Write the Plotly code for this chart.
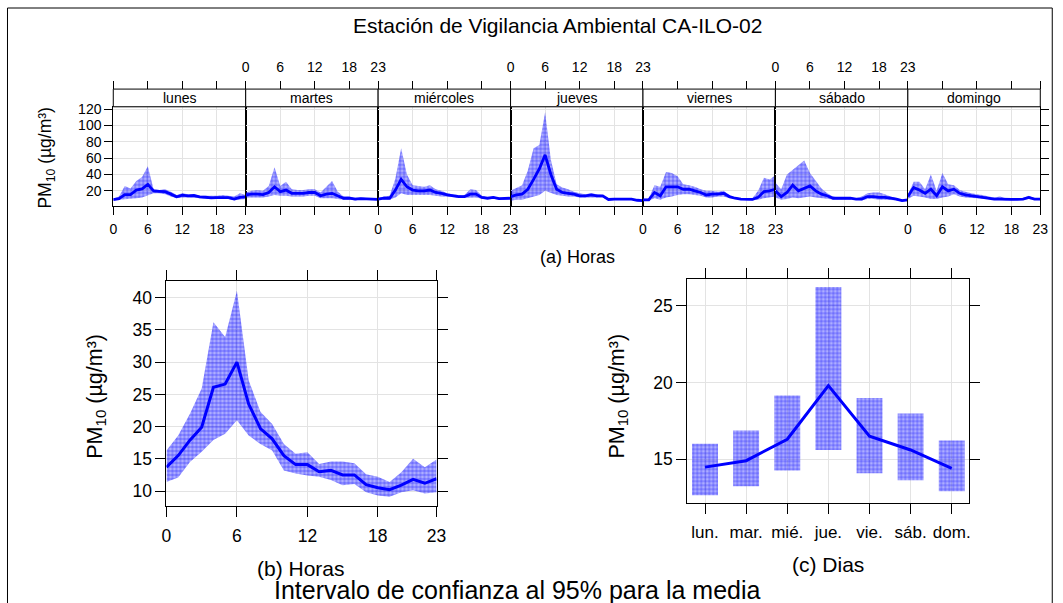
import plotly.graph_objects as go

# ---------------- data ----------------
hours = list(range(24))
days = ["lunes", "martes", "miércoles", "jueves", "viernes", "sábado", "domingo"]
day_abbr = ["lun.", "mar.", "mié.", "jue.", "vie.", "sáb.", "dom."]
hour_ticks = [0, 6, 12, 18, 23]

lunes_mean = [9.4, 10.6, 15.5, 15.5, 21, 22.5, 28, 20, 19.5, 19, 16, 12.7, 14.7, 14, 14.3, 12.7, 12.2, 11.4, 11.8, 12, 11.8, 10, 12, 12.7]
lunes_upper = [10.5, 13, 26, 23, 32, 37, 50, 22, 21, 22, 19, 15, 17, 16, 16, 14, 14, 14, 14, 15, 14, 13, 17, 15]
lunes_lower = [8.5, 9, 10, 10, 11, 12, 15, 17, 17, 16, 13, 11, 12, 12, 12, 11, 10.5, 10, 10, 10, 10, 8.5, 9, 10]

martes_mean = [15, 16, 16, 15.5, 18, 25, 19, 21, 17, 17, 17, 18, 18, 14, 16, 17, 14, 11, 11, 10, 10.5, 10, 9.5, 9.5]
martes_upper = [18, 20, 21, 20, 26, 49, 26, 31, 22, 21, 21, 22, 22, 18, 25, 32, 19, 13, 13, 11.5, 12, 11, 10.5, 10.5]
martes_lower = [12, 12, 12, 12, 13, 15, 14, 14, 13, 13, 13, 14, 14, 11, 11, 11, 10, 9, 9, 8.5, 9, 9, 8.5, 8.5]

miercoles_mean = [10, 11, 11, 21, 34, 25, 21, 20, 20, 21, 18, 17, 15, 14, 13, 13, 16, 16, 12, 11, 12, 10.5, 10.5, 11]
miercoles_upper = [11, 13, 14, 35, 72, 40, 27, 26, 25, 27, 22, 20, 17, 16, 15, 15, 22, 21, 14, 12, 13, 11.5, 11, 11.5]
miercoles_lower = [9, 9.5, 9.5, 12, 17, 15, 15, 15, 15, 15, 14, 13, 13, 12, 11.5, 11.5, 12, 12, 10.5, 10, 10.5, 9.5, 9.5, 10]

jueves_mean = [13, 15, 16, 22, 34, 47, 64, 40, 22, 18, 17, 16, 14, 14, 15, 14, 14, 9.5, 10, 10, 10, 10, 8.5, 8]
jueves_upper = [20, 24, 27, 45, 72, 76, 116, 58, 28, 24, 22, 19, 17, 16, 17, 16, 15, 11, 11, 11, 11, 11, 9.5, 9]
jueves_lower = [8, 9, 9, 11, 13, 15, 20, 17, 15, 14, 13, 13, 12, 12, 12, 12, 12, 8.5, 9, 9, 9, 9, 7.5, 7]

viernes_mean = [9, 9, 18, 14, 25, 25, 25, 22, 22, 20, 18, 15, 16, 16, 17, 13, 11, 10, 9.5, 9.5, 12, 19, 20, 22]
viernes_upper = [10, 11, 27, 25, 43, 42, 38, 28, 27, 25, 22, 20, 20, 19, 20, 15, 12, 11, 10.5, 11, 20, 36, 34, 39]
viernes_lower = [8, 8, 11, 9, 12, 13, 15, 16, 16, 15, 14, 12, 12, 13, 13, 11, 10, 9, 8.5, 8.5, 9, 11, 12, 13]

sabado_mean = [20, 13, 18, 27, 20, 23, 26, 20, 16, 14, 11, 11, 11, 11, 10, 10, 13, 13, 12, 12, 11, 10, 8, 9]
sabado_upper = [30, 22, 40, 46, 51, 57, 42, 33, 23, 17, 13, 12, 12, 12, 11, 13, 17, 18, 18, 16, 13, 11, 9, 10]
sabado_lower = [12, 9, 10, 12, 11, 12, 13, 12, 11, 10, 9.5, 9.5, 9.5, 9.5, 9, 8.5, 10, 10, 9, 9, 9, 8.5, 7, 8]

domingo_mean = [13, 24, 21, 17, 22, 14, 25, 20, 22, 17, 15, 14, 13, 12, 11.5, 10, 10, 9.5, 9.5, 9.5, 10, 12, 10, 10]
domingo_upper = [15, 31, 31, 22, 40, 20, 42, 28, 27, 21, 19, 17, 16, 15, 13, 12, 13, 11, 10.5, 10.5, 11, 14, 11, 11]
domingo_lower = [10, 14, 13, 12, 10, 10, 12, 13, 16, 13, 12, 11.5, 11, 10.5, 10, 9, 9, 8.5, 8.5, 8.5, 9, 10, 9, 9]

hour_mean = [13.7, 15.5, 17.9, 19.9, 26.1, 26.6, 30.0, 23.5, 19.7, 18.1, 15.5, 14.1, 14.1, 13.0, 13.2, 12.5, 12.5, 11.0, 10.5, 10.2, 10.9, 11.8, 11.2, 11.9]
hour_upper = [16.3, 18.6, 22.0, 25.9, 36.2, 33.9, 41.1, 27.2, 22.3, 20.4, 17.3, 15.8, 16.0, 14.2, 14.6, 14.6, 14.3, 12.6, 12.2, 11.4, 12.9, 15.0, 13.7, 14.9]
hour_lower = [11.4, 12.1, 14.5, 16.1, 17.9, 18.9, 21.0, 18.6, 17.3, 16.3, 13.2, 12.7, 12.4, 12.2, 11.7, 10.9, 11.1, 9.8, 9.3, 9.1, 9.8, 10.1, 9.6, 9.8]

weekday_mean = [14.48, 14.9, 16.3, 19.8, 16.5, 15.6, 14.4]
weekday_upper = [16.0, 16.87, 19.16, 26.24, 18.99, 17.98, 16.22]
weekday_lower = [12.65, 13.24, 14.26, 15.59, 14.08, 13.63, 12.91]

day_means = [lunes_mean, martes_mean, miercoles_mean, jueves_mean, viernes_mean, sabado_mean, domingo_mean]
day_uppers = [lunes_upper, martes_upper, miercoles_upper, jueves_upper, viernes_upper, sabado_upper, domingo_upper]
day_lowers = [lunes_lower, martes_lower, miercoles_lower, jueves_lower, viernes_lower, sabado_lower, domingo_lower]

# ---------------- styling ----------------
W, H = 1063, 603
# observed mapping of page pixels to the photographed picture (small inset + scale)
SX, OX, SY, OY = 0.988, 5.5, 0.989, 6.0
FONT = "Liberation Sans, Arial, sans-serif"
BLUE = "#0000ff"
BAND_BG = "rgba(0,0,255,0.32)"
GRID = "#e3e3e3"
pattern = dict(shape="+", size=4, solidity=0.22, fgcolor=BLUE, fgopacity=0.85,
               bgcolor=BAND_BG, fillmode="replace")
YLAB = "PM<sub>10</sub> (µg/m³)"


def fx(p):
    return ((p - OX) / SX) / W


def fy(p):
    return 1 - ((p - OY) / SY) / H


fig = go.Figure()


def add_band(x, lo, up, mean, xa, ya, lw):
    fig.add_trace(go.Scatter(x=x, y=lo, mode="lines", line=dict(width=0, color=BLUE),
                             xaxis=xa, yaxis=ya, showlegend=False, hoverinfo="skip"))
    fig.add_trace(go.Scatter(x=x, y=up, mode="lines", line=dict(width=0, color=BLUE),
                             fill="tonexty", fillcolor=BAND_BG, fillpattern=pattern,
                             xaxis=xa, yaxis=ya, showlegend=False, hoverinfo="skip"))
    fig.add_trace(go.Scatter(x=x, y=mean, mode="lines", line=dict(width=lw, color=BLUE),
                             xaxis=xa, yaxis=ya, showlegend=False))


layout = dict(width=W, height=H, autosize=False, margin=dict(l=0, r=0, t=0, b=0, pad=0),
              paper_bgcolor="white", plot_bgcolor="white",
              font=dict(family=FONT, color="black"), showlegend=False)

shapes = []
annotations = []

# ---------------- (a) top panels ----------------
left, right = 114, 1043
pw = (right - left) / 7
top_plot, bot_plot, strip_top = 106.7, 205.7, 89
for i in range(7):
    n = i + 1
    x0 = left + i * pw
    x1 = x0 + pw
    add_band(hours, day_lowers[i], day_uppers[i], day_means[i], f"x{n}", f"y{n}", 2.8)
    # dummy trace for the top tick axis
    fig.add_trace(go.Scatter(x=hours, y=[None] * 24, mode="lines", xaxis=f"x{7 + n}",
                             yaxis=f"y{n}", showlegend=False, hoverinfo="skip"))
    layout[f"xaxis{n}"] = dict(domain=[fx(x0), fx(x1)], range=[0, 23], anchor=f"y{n}",
                               tickvals=hour_ticks, ticks="outside", ticklen=8, tickcolor="black",
                               showline=True, linecolor="black", linewidth=1, mirror=True,
                               showgrid=True, gridcolor=GRID, zeroline=False,
                               showticklabels=(i % 2 == 0), tickfont=dict(size=14),
                               ticklabelstandoff=2)
    ya = dict(domain=[fy(bot_plot), fy(top_plot)], range=[1.6, 122.8], anchor=f"x{n}",
              tickvals=[20, 40, 60, 80, 100, 120], showgrid=True, gridcolor=GRID, zeroline=False,
              showline=True, linecolor="black", linewidth=1, mirror=True,
              ticks="", showticklabels=False, tickfont=dict(size=14))
    if i == 0:
        ya.update(ticks="outside", ticklen=8, tickcolor="black", showticklabels=True)
    if i == 6:
        ya.update(ticks="outside", ticklen=8, tickcolor="black", side="right")
    layout[f"yaxis{n}"] = ya
    layout[f"xaxis{7 + n}"] = dict(overlaying=f"x{n}", anchor="free", position=fy(strip_top),
                                   side="top", range=[0, 23], tickvals=hour_ticks,
                                   ticks="outside", ticklen=8, tickcolor="black",
                                   showline=False, showgrid=False, zeroline=False,
                                   showticklabels=(i % 2 == 1), tickfont=dict(size=14),
                                   ticklabelstandoff=3)
    shapes.append(dict(type="rect", xref="paper", yref="paper", x0=fx(x0), x1=fx(x1),
                       y0=fy(top_plot), y1=fy(strip_top), line=dict(color="black", width=1),
                       fillcolor="white", layer="above"))
    annotations.append(dict(text=days[i], xref="paper", yref="paper", x=fx((x0 + x1) / 2),
                            y=fy((top_plot + strip_top) / 2), showarrow=False,
                            font=dict(size=14), xanchor="center", yanchor="middle"))

annotations.append(dict(text=YLAB, xref="paper", yref="paper", x=fx(47), y=fy(157),
                        textangle=-90, showarrow=False, font=dict(size=17.5),
                        xanchor="center", yanchor="middle"))
annotations.append(dict(text="(a) Horas", xref="paper", yref="paper", x=fx(579), y=fy(257),
                        showarrow=False, font=dict(size=18), xanchor="center", yanchor="middle"))

# ---------------- (b) hours ----------------
add_band(hours, hour_lower, hour_upper, hour_mean, "x15", "y15", 3)
layout["xaxis15"] = dict(domain=[fx(167.3), fx(438)], range=[0, 23], anchor="y15",
                         tickvals=hour_ticks, ticks="outside", ticklen=10, tickcolor="black",
                         showline=True, linecolor="black", mirror="ticks", showgrid=True,
                         gridcolor=GRID, zeroline=False, tickfont=dict(size=17.5),
                         ticklabelstandoff=4)
layout["yaxis15"] = dict(domain=[fy(505.3), fy(280.7)], range=[7.7, 42.6], anchor="x15",
                         tickvals=[10, 15, 20, 25, 30, 35, 40], ticks="outside", ticklen=10,
                         tickcolor="black", showline=True, linecolor="black", mirror="ticks",
                         showgrid=True, gridcolor=GRID, zeroline=False, tickfont=dict(size=17.5))
annotations.append(dict(text=YLAB, xref="paper", yref="paper", x=fx(97), y=fy(396),
                        textangle=-90, showarrow=False, font=dict(size=21.5),
                        xanchor="center", yanchor="middle"))
annotations.append(dict(text="(b) Horas", xref="paper", yref="paper", x=fx(302.5), y=fy(568),
                        showarrow=False, font=dict(size=21), xanchor="center", yanchor="middle"))

# ---------------- (c) weekdays ----------------
fig.add_trace(go.Bar(x=day_abbr, y=[u - l for u, l in zip(weekday_upper, weekday_lower)],
                     base=weekday_lower, width=0.63, xaxis="x16", yaxis="y16",
                     marker=dict(color=BAND_BG, line=dict(width=0), pattern=pattern),
                     showlegend=False, hoverinfo="skip"))
fig.add_trace(go.Scatter(x=day_abbr, y=weekday_mean, mode="lines",
                         line=dict(width=3, color=BLUE), xaxis="x16", yaxis="y16",
                         showlegend=False))
layout["xaxis16"] = dict(domain=[fx(689.3), fx(972)], range=[-0.43, 6.43], anchor="y16",
                         type="category", ticks="outside", ticklen=10, tickcolor="black",
                         showline=True, linecolor="black", mirror="ticks", showgrid=True,
                         gridcolor=GRID, zeroline=False, tickfont=dict(size=17),
                         ticklabelstandoff=4)
layout["yaxis16"] = dict(domain=[fy(502.3), fy(279)], range=[12.15, 26.74], anchor="x16",
                         tickvals=[15, 20, 25], ticks="outside", ticklen=10, tickcolor="black",
                         showline=True, linecolor="black", mirror="ticks", showgrid=True,
                         gridcolor=GRID, zeroline=False, tickfont=dict(size=17.5))
annotations.append(dict(text=YLAB, xref="paper", yref="paper", x=fx(620), y=fy(396),
                        textangle=-90, showarrow=False, font=dict(size=21.5),
                        xanchor="center", yanchor="middle"))
annotations.append(dict(text="(c) Dias", xref="paper", yref="paper", x=fx(830.5), y=fy(564),
                        showarrow=False, font=dict(size=21), xanchor="center", yanchor="middle"))

# ---------------- titles & frame ----------------
annotations.append(dict(text="Estación de Vigilancia Ambiental CA-ILO-02", xref="paper",
                        yref="paper", x=fx(559), y=fy(25), showarrow=False,
                        font=dict(size=21), xanchor="center", yanchor="middle"))
annotations.append(dict(text="Intervalo de confianza al 95% para la media", xref="paper",
                        yref="paper", x=fx(519), y=fy(589), showarrow=False,
                        font=dict(size=25), xanchor="center", yanchor="middle"))
shapes.append(dict(type="rect", xref="paper", yref="paper", x0=fx(8), x1=fx(1055),
                   y0=-0.05, y1=fy(8), line=dict(color="black", width=1),
                   fillcolor="rgba(0,0,0,0)", layer="above"))

layout["shapes"] = shapes
layout["annotations"] = annotations
fig.update_layout(**layout)

fit_script = (
    "var s='margin:0;padding:0;overflow:hidden;';"
    "document.documentElement.style.cssText=s;document.body.style.cssText=s;"
)
fig.write_html(
    "out.html",
    config={"responsive": False, "displayModeBar": False},
    post_script=fit_script,
)
